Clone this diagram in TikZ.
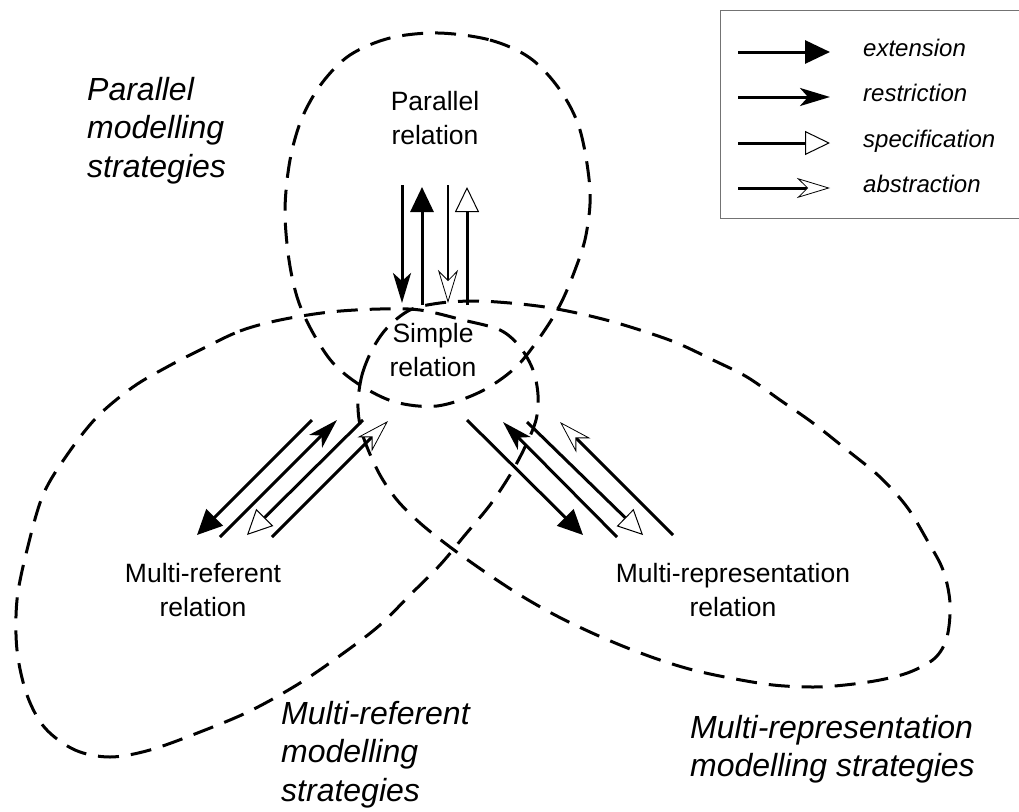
\documentclass[tikz,border=0pt]{standalone}
\usepackage{fontspec}
\setmainfont{Liberation Sans}
\usetikzlibrary{arrows.meta}
\begin{document}
\begin{tikzpicture}[x=1pt,y=-1pt,
  region/.style={line width=3pt, dash pattern=on 21pt off 12pt, line cap=butt},
  lbl/.style={inner sep=0pt, align=center, font=\fontsize{26.5}{34}\selectfont},
  strat/.style={inner sep=0pt, align=left, anchor=north west, font=\fontsize{32}{38.5}\selectfont\itshape},
  keytext/.style={inner sep=0pt, anchor=base west, font=\fontsize{24}{28}\selectfont\itshape},
  extarrow/.style={line width=3pt, -{Triangle[length=25pt,width=23pt]}},
  resarrow/.style={line width=3pt, -{Stealth[length=30pt,width=18pt,inset=8pt]}},
  specarrow/.style={line width=3pt, -{Triangle[length=25pt,width=24pt,fill=white,line width=1pt]}},
  absarrow/.style={line width=3pt, -{Stealth[length=33pt,width=20pt,inset=10pt,fill=white,line width=0.8pt]}},
]
\useasboundingbox (0,0) rectangle (1019,811);

% strategy regions
\draw[region] plot[smooth cycle, tension=0.55] coordinates {
  (438,33) (490,40) (530,58) (560,90) (580,130) (590,190) (586,235)
  (575,270) (560,305) (540,337) (515,368) (480,392) (437,406) (395,402)
  (360,385) (333,363) (313,333) (298,300) (289,260) (285,210) (290,160)
  (302,118) (322,83) (350,55) (390,38)};
\draw[region] plot[smooth cycle, tension=0.55] coordinates {
  (200,350) (240,331) (280,320) (330,312) (380,309) (420,310) (463,320)
  (500,330) (520,347) (533,370) (538,395) (536,420) (525,447) (510,475)
  (490,505) (465,535) (440,565) (410,595) (380,625) (345,652) (300,683)
  (250,711) (200,732) (150,750) (110,757) (75,750) (45,728) (27,695)
  (17,650) (17,600) (27,550) (43,495) (67,455) (97,417) (133,387) (167,367)};
\draw[region] plot[smooth cycle, tension=0.55] coordinates {
  (358,402) (362,375) (372,350) (387,328) (410,310) (440,303) (475,301)
  (510,303) (545,307) (577,313) (610,321) (643,331) (677,343) (713,360)
  (747,377) (780,400) (813,423) (847,450) (880,477) (907,507) (927,540)
  (943,570) (950,603) (947,637) (935,658) (910,672) (880,680) (845,685)
  (813,687) (773,685) (730,678) (693,670) (660,660) (625,647) (590,632)
  (555,615) (520,595) (485,572) (450,547) (420,523) (397,500) (380,475)
  (367,447) (360,425)};

% relations
\node[lbl] (par) at (435,118) {Parallel\\relation};
\node[lbl] (simple) at (433,350) {Simple\\relation};
\node[lbl] (mref) at (203,590) {Multi-referent\\relation};
\node[lbl] (mrep) at (733,590) {Multi-representation\\relation};

% strategy labels
\node[strat] (spar) at (87,77) {Parallel\\modelling\\strategies};
\node[strat] (sref) at (281,701) {Multi-referent\\modelling\\strategies};
\node[strat] (srep) at (690,715) {Multi-representation\\modelling strategies};

% arrow end points
\coordinate (pa1) at (402,185); \coordinate (sa1) at (402,303);
\coordinate (sa2) at (422,305); \coordinate (pa2) at (422,187);
\coordinate (pa3) at (448,185); \coordinate (sa3) at (448,303);
\coordinate (sa4) at (467,305); \coordinate (pa4) at (467,187);

\coordinate (sl1) at (312,420); \coordinate (rl1) at (197,535);
\coordinate (rl2) at (220,537); \coordinate (sl2) at (337,420);
\coordinate (sl3) at (363,420); \coordinate (rl3) at (247,535);
\coordinate (rl4) at (272,537); \coordinate (sl4) at (388,421);

\coordinate (sr1) at (467,420); \coordinate (rr1) at (583,535);
\coordinate (rr2) at (617,537); \coordinate (sr2) at (503,422);
\coordinate (sr3) at (527,422); \coordinate (rr3) at (643,535);
\coordinate (rr4) at (673,535); \coordinate (sr4) at (560,422);

% parallel <-> simple
\draw[resarrow] (pa1) -- (sa1);
\draw[extarrow] (sa2) -- (pa2);
\draw[absarrow, line width=1.8pt] (pa3) -- (sa3);
\draw[specarrow] (sa4) -- (pa4);

% simple <-> multi-referent
\draw[extarrow] (sl1) -- (rl1);
\draw[resarrow] (rl2) -- (sl2);
\draw[specarrow] (sl3) -- (rl3);
\draw[absarrow] (rl4) -- (sl4);

% simple <-> multi-representation
\draw[extarrow] (sr1) -- (rr1);
\draw[resarrow] (rr2) -- (sr2);
\draw[specarrow] (sr3) -- (rr3);
\draw[absarrow] (rr4) -- (sr4);

% key
\draw[line width=1pt, black!55] (720,10) rectangle (1030,218);
\coordinate (k1a) at (738,52);  \coordinate (k1b) at (830,52);
\coordinate (k2a) at (738,97);  \coordinate (k2b) at (830,97);
\coordinate (k3a) at (738,143); \coordinate (k3b) at (830,143);
\coordinate (k4a) at (738,188); \coordinate (k4b) at (830,188);
\draw[extarrow] (k1a) -- (k1b);
\draw[resarrow] (k2a) -- (k2b);
\draw[specarrow] (k3a) -- (k3b);
\draw[absarrow] (k4a) -- (k4b);
\node[keytext] (kext) at (863,56) {extension};
\node[keytext] (kres) at (863,101) {restriction};
\node[keytext] (kspec) at (863,147) {specification};
\node[keytext] (kabs) at (863,192) {abstraction};
\end{tikzpicture}
\end{document}
